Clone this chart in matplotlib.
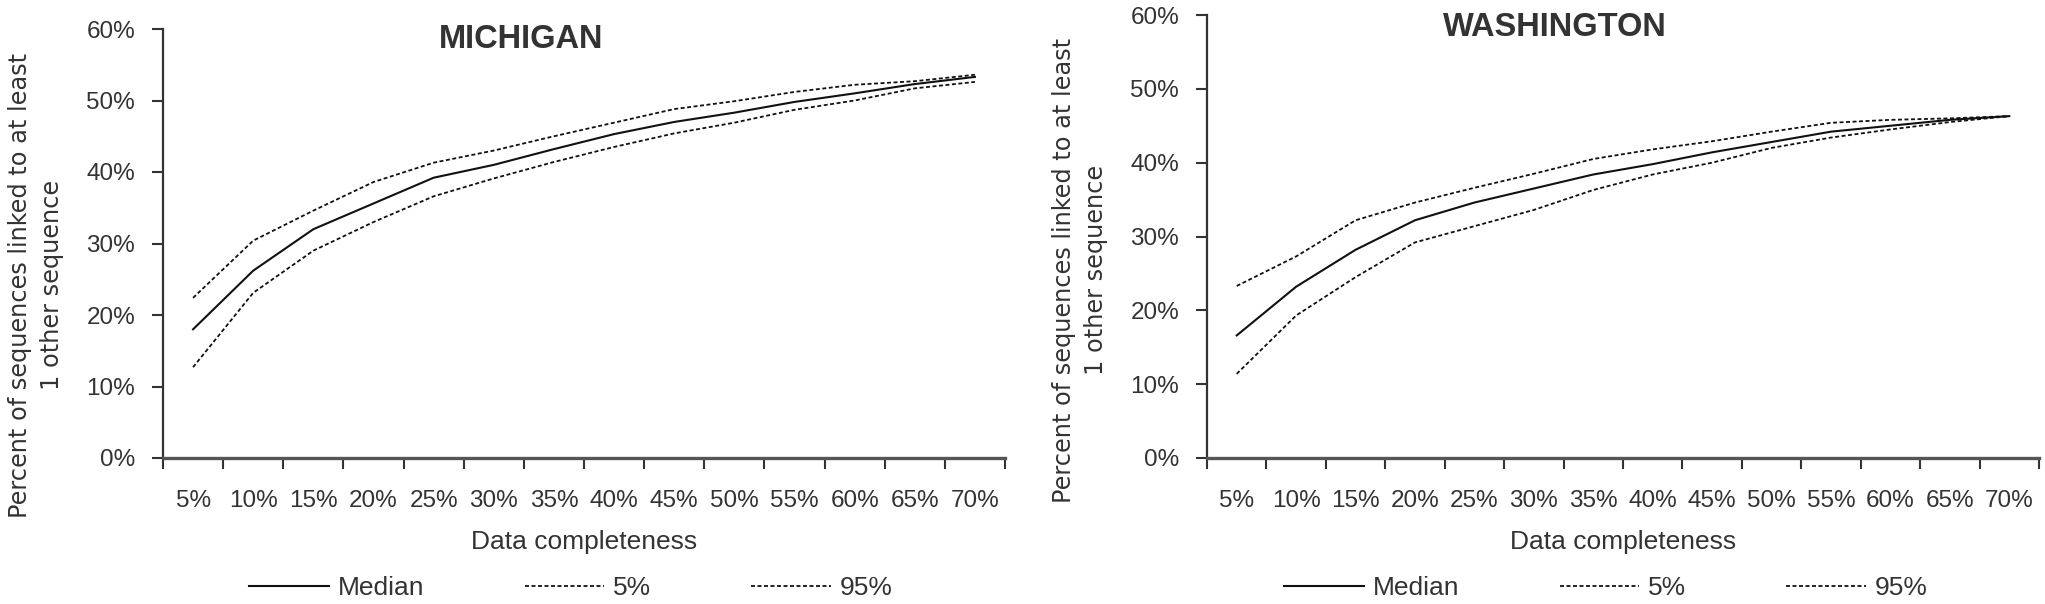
import matplotlib
matplotlib.use("Agg")
import matplotlib.pyplot as plt
from matplotlib.ticker import FuncFormatter, FixedLocator

# 数据
categories = ["5%", "10%", "15%", "20%", "25%", "30%", "35%",
              "40%", "45%", "50%", "55%", "60%", "65%", "70%"]

mi_median = [18.0, 26.2, 32.0, 35.6, 39.2, 41.0, 43.2, 45.3, 47.0, 48.3, 49.8, 51.0, 52.3, 53.3]
mi_p5 = [12.7, 23.1, 29.0, 33.0, 36.6, 39.1, 41.4, 43.5, 45.4, 46.9, 48.7, 50.0, 51.7, 52.6]
mi_p95 = [22.4, 30.4, 34.6, 38.6, 41.3, 43.0, 45.0, 46.9, 48.8, 49.9, 51.2, 52.2, 52.7, 53.6]

wa_median = [16.6, 23.2, 28.2, 32.2, 34.6, 36.5, 38.4, 39.8, 41.4, 42.8, 44.2, 45.0, 45.8, 46.3]
wa_p5 = [11.4, 19.3, 24.5, 29.2, 31.4, 33.6, 36.3, 38.4, 40.0, 42.0, 43.4, 44.5, 45.5, 46.3]
wa_p95 = [23.3, 27.3, 32.2, 34.6, 36.6, 38.5, 40.5, 41.8, 42.9, 44.2, 45.4, 45.8, 46.0, 46.3]

plt.rcParams["font.family"] = ["Liberation Sans", "DejaVu Sans"]
grey = "#333333"
W, H = 2045, 604

fig = plt.figure(figsize=(W / 100, H / 100), dpi=100)


def draw(box, title, title_xy, med, p5, p95, ylab_xy, leg_x):
    ax = fig.add_axes(box)
    x = [i + 0.5 for i in range(len(categories))]
    ax.plot(x, med, color="#111111", lw=1.5, label="Median")
    ax.plot(x, p5, color="#111111", lw=1.3, dashes=(2.2, 1.4), label="5%")
    ax.plot(x, p95, color="#111111", lw=1.3, dashes=(2.2, 1.4), label="95%")
    ax.set_xlim(0, len(categories))
    ax.set_ylim(0, 60)
    ax.set_yticks(range(0, 61, 10))
    ax.yaxis.set_major_formatter(FuncFormatter(lambda v, p: "%d%%" % v))
    ax.xaxis.set_major_locator(FixedLocator(range(len(categories) + 1)))
    ax.xaxis.set_minor_locator(FixedLocator(x))
    ax.xaxis.set_major_formatter(FuncFormatter(lambda v, p: ""))
    ax.set_xticklabels(categories, minor=True)
    ax.tick_params(axis="x", which="minor", length=0, pad=23, labelsize=17.5, labelcolor=grey)
    ax.tick_params(axis="x", which="major", length=8, width=1.5, color=grey, direction="out")
    ax.tick_params(axis="y", length=8, width=1.5, color=grey, pad=12, labelsize=17.5, labelcolor=grey)
    for s in ["top", "right"]:
        ax.spines[s].set_visible(False)
    ax.spines["left"].set_linewidth(1.6)
    ax.spines["left"].set_color("#333333")
    ax.spines["bottom"].set_linewidth(2.4)
    ax.spines["bottom"].set_color("#555555")
    ax.set_xlabel("Data completeness", fontsize=19, color=grey, va="center")
    ax.xaxis.set_label_coords(0.5, (458 - 542) / (box[3] * H))
    fig.text(title_xy[0] / W, 1 - title_xy[1] / H, title, fontsize=23.5, fontweight="bold",
             color=grey, ha="center", va="center")
    fig.text(ylab_xy[0] / W, 1 - ylab_xy[1] / H,
             "Percent of sequences linked to at least\n1 other sequence",
             family="DejaVu Sans", fontsize=17.3, color=grey, rotation=90,
             ha="center", va="center", multialignment="center", linespacing=1.45)
    leg = ax.legend(loc="center", bbox_to_anchor=(leg_x / W, 1 - 588 / H),
                    bbox_transform=fig.transFigure, ncol=3, frameon=False,
                    fontsize=19, handlelength=3.0, handletextpad=0.35,
                    columnspacing=3.8)
    for t in leg.get_texts():
        t.set_color(grey)
    return ax


draw([163 / W, 1 - 458 / H, 842 / W, 429 / H], "MICHIGAN", (521, 40),
     mi_median, mi_p5, mi_p95, (36, 285), 571)
draw([1207 / W, 1 - 458 / H, 832 / W, 443 / H], "WASHINGTON", (1555, 27),
     wa_median, wa_p5, wa_p95, (1080, 270), 1606)

fig.savefig("out.png", dpi=100)
